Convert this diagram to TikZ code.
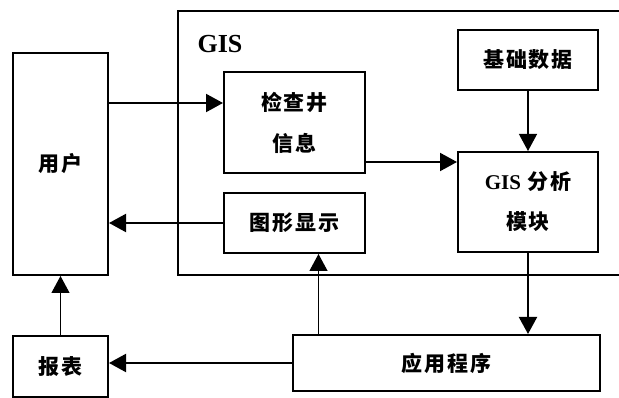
\documentclass[tikz,border=0pt]{standalone}
\usepackage{fontspec}
\setmainfont{Liberation Serif}
\newfontfamily\cjk[LetterSpace=8]{Noto Sans CJK SC}
\usetikzlibrary{arrows.meta}
\begin{document}
\begin{tikzpicture}[x=1pt,y=-1pt,
  box/.style={draw=black,line width=2pt,inner sep=0pt,align=center,
    font=\cjk\bfseries\fontsize{21}{24}\selectfont},
  thick arrow/.style={line width=2pt,-{Triangle[length=17pt,width=18pt]}},
  thin arrow/.style={line width=1.2pt,-{Triangle[length=17pt,width=18pt]}}]
\useasboundingbox (0,0) rectangle (619,398);
% GIS frame (open to the right)
\draw[line width=2pt] (619,11) -- (178,11) -- (178,275) -- (619,275);
\node[font=\bfseries\fontsize{26}{30}\selectfont,anchor=west] (gislabel) at (194,44) {GIS};
% boxes
\node[box,minimum width=95pt,minimum height=222pt] (user) at (60.5,164) {用户};
\node[box,minimum width=141pt,minimum height=101pt] (jc) at (294.5,122.5) {检查井\\[17pt]信息};
\node[box,minimum width=140pt,minimum height=60pt] (jd) at (528,60) {基础数据};
\node[box,minimum width=140pt,minimum height=100pt] (gis) at (528,202) {{\rmfamily\fontsize{21}{24}\selectfont GIS} 分析\\[16pt]模块};
\node[box,minimum width=141pt,minimum height=60pt] (tx) at (294.5,223) {图形显示};
\node[box,minimum width=307pt,minimum height=56pt] (app) at (446.5,363) {应用程序};
\node[box,minimum width=95pt,minimum height=61pt] (bb) at (60.5,366.5) {报表};
% connectors
\draw[thick arrow] (user.east |- 0,103) -- (jc.west |- 0,103);
\draw[thick arrow] (jc.east |- 0,162) -- (gis.west |- 0,162);
\draw[thin arrow] (jd.south) -- (gis.north);
\draw[thick arrow] (tx.west) -- (user.east |- tx.west);
\draw[thick arrow] (gis.south) -- (gis.south |- app.north);
\draw[thin arrow] (app.north -| 318.5,0) -- (tx.south -| 318.5,0);
\draw[thick arrow] (app.west) -- (bb.east |- app.west);
\draw[thin arrow] (bb.north) -- (user.south);
\end{tikzpicture}
\end{document}
